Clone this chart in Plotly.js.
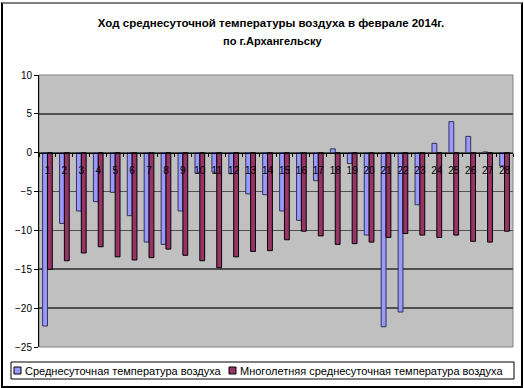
<!DOCTYPE html>
<html>
<head>
<meta charset="utf-8">
<script src="https://cdn.plot.ly/plotly-3.0.1.min.js"></script>
<style>
  html, body { margin: 0; padding: 0; background: #fff; }
  #wrap { position: relative; width: 524px; height: 388px; }
  #chart { width: 524px; height: 388px; }
  #frame { position: absolute; left: 1px; top: 2px;
    border-top: 2px solid #808080; border-left: 2px solid #000; border-right: 2px solid #000; border-bottom: 2px solid #000;
    pointer-events: none; box-sizing: border-box; width: 522px; height: 386px; }
</style>
</head>
<body>
<div id="wrap">
  <div id="chart"></div>
  <div id="frame"></div>
</div>
<script>
const days = ["1","2","3","4","5","6","7","8","9","10","11","12","13","14","15","16","17","18","19","20","21","22","23","24","25","26","27","28"];
const dailyMean = [-22.3, -9.1, -7.5, -6.3, -5.1, -8.1, -11.5, -11.8, -7.5, -2.6, -2.5, -2.7, -5.3, -5.4, -7.5, -8.7, -3.6, 0.5, -1.4, -10.6, -22.4, -20.5, -6.7, 1.2, 4.0, 2.1, 0.1, -1.7];
const normMean = [-15.0, -13.9, -12.9, -12.1, -13.4, -13.8, -13.5, -12.4, -13.2, -13.9, -14.8, -13.4, -12.7, -12.6, -11.2, -10.1, -10.7, -11.8, -11.7, -11.5, -10.9, -10.4, -10.6, -10.9, -10.6, -11.4, -11.5, -10.1];
const seriesNames = ["Среднесуточная температура воздуха", "Многолетняя среднесуточная температура воздуха"];
const seriesColors = ["#9999ff", "#993366"];
const titleLine1 = "Ход среднесуточной температуры воздуха в феврале 2014г.";
const titleLine2 = "по г.Архангельску";

const font = "Arial, 'Liberation Sans', sans-serif";

const traces = [
  { type: "bar", x: days, y: dailyMean, name: seriesNames[0],
    marker: { color: seriesColors[0], line: { color: "#333355", width: 1 } } },
  { type: "bar", x: days, y: normMean, name: seriesNames[1],
    marker: { color: seriesColors[1], line: { color: "#000000", width: 1 } } }
];

const legX0 = 11, legX1 = 514, legY0 = 362, legY1 = 379;
const W = 524, H = 388, mL = 39, mR = 11, mT = 75, mB = 41;
const pw = W - mL - mR, ph = H - mT - mB;
const px = v => (v - mL) / pw;
const py = v => (H - mB - v) / ph;
const legItemX = [14, 229];

const shapes = [
  { type: "rect", xref: "paper", yref: "paper", x0: 0, x1: 1, y0: 0, y1: 1,
    line: { color: "#808080", width: 1 }, layer: "below" },
  { type: "rect", xref: "paper", yref: "paper", x0: px(legX0), x1: px(legX1), y0: py(legY0), y1: py(legY1),
    line: { color: "#000", width: 1 }, fillcolor: "#fff" }
];
const annotations = [
  { xref: "paper", yref: "paper", x: px(272), y: py(41), xanchor: "center", yanchor: "middle",
    showarrow: false, text: titleLine2, font: { family: font, size: 11, color: "#000", weight: "bold" } }
];
seriesNames.forEach((n, i) => {
  shapes.push({ type: "rect", xref: "paper", yref: "paper",
    x0: px(legItemX[i]), x1: px(legItemX[i] + 7), y0: py(legY0 + 5), y1: py(legY0 + 12),
    line: { color: "#000", width: 1 }, fillcolor: seriesColors[i] });
  annotations.push({ xref: "paper", yref: "paper", x: px(legItemX[i] + 9), y: py((legY0 + legY1) / 2 + 0.5),
    xanchor: "left", yanchor: "middle", showarrow: false, text: n,
    font: { family: font, size: 11, color: "#000" } });
});

const layout = {
  width: W, height: H,
  margin: { l: mL, r: mR, t: mT, b: mB, pad: 0 },
  paper_bgcolor: "#ffffff",
  plot_bgcolor: "#c0c0c0",
  showlegend: false,
  barmode: "group",
  bargap: 0.4286,
  bargroupgap: 0,
  title: { text: titleLine1, font: { family: font, size: 11.5, color: "#000", weight: "bold" },
    x: 271 / W, xanchor: "center", xref: "container", yref: "container", y: 1 - 23 / H, yanchor: "middle" },
  xaxis: {
    type: "category", range: [-0.5, 27.5],
    anchor: "free", position: 25 / 35,
    showline: true, linecolor: "#000", linewidth: 1,
    ticks: "outside", ticklen: 3, tickcolor: "#000", tickson: "boundaries",
    ticklabelstandoff: 8, tickangle: 0,
    showgrid: false, zeroline: false,
    tickfont: { family: font, size: 10, color: "#000" }
  },
  yaxis: {
    range: [-25, 10], dtick: 5, tick0: 0,
    showline: true, linecolor: "#000", linewidth: 1,
    ticks: "outside", ticklen: 4, tickcolor: "#000",
    showgrid: true, gridcolor: "#505050", gridwidth: 1.6,
    zeroline: false,
    tickfont: { family: font, size: 10, color: "#000" }
  },
  shapes: shapes,
  annotations: annotations
};

Plotly.newPlot("chart", traces, layout, { displayModeBar: false, staticPlot: true });
</script>
</body>
</html>
